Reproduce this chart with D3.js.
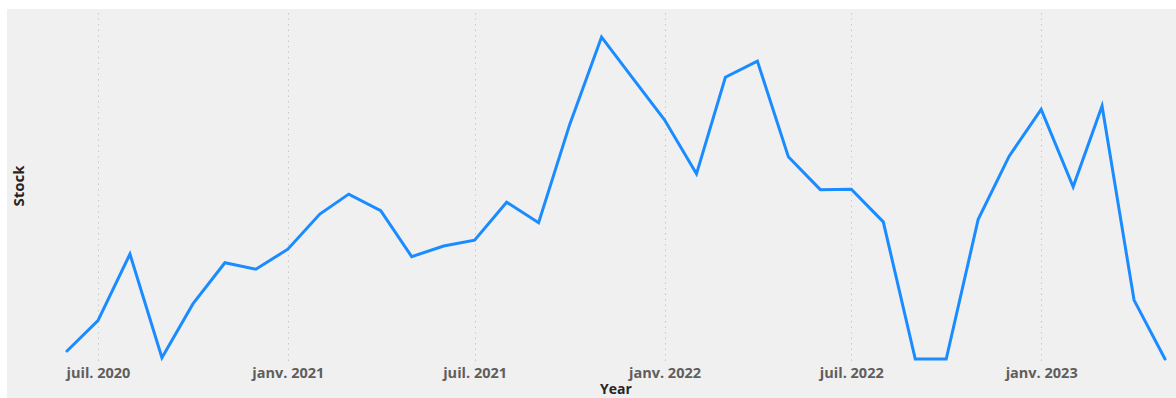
<!DOCTYPE html>
<html>
<head>
<meta charset="utf-8">
<script src="https://cdn.jsdelivr.net/npm/d3@7"></script>
<style>
  html, body { margin: 0; padding: 0; background: #ffffff; }
  svg { display: block; }
</style>
</head>
<body>
<svg id="chart" width="1176" height="398"></svg>
<script>
// Monthly stock level, June 2020 – May 2023
const months = [
  "2020-06", "2020-07", "2020-08", "2020-09", "2020-10", "2020-11", "2020-12",
  "2021-01", "2021-02", "2021-03", "2021-04", "2021-05", "2021-06",
  "2021-07", "2021-08", "2021-09", "2021-10", "2021-11", "2021-12",
  "2022-01", "2022-02", "2022-03", "2022-04", "2022-05", "2022-06",
  "2022-07", "2022-08", "2022-09", "2022-10", "2022-11", "2022-12",
  "2023-01", "2023-02", "2023-03", "2023-04", "2023-05"
];
const stock = [
  25, 119, 326, 4, 171, 299, 279,
  341, 450, 512, 461, 318, 351,
  369, 487, 423, 727, 1000, 873,
  743, 575, 875, 925, 628, 526,
  527, 426, 0, 0, 434, 630,
  775, 535, 786, 183, 0
];
const tickMonths = ["2020-07", "2021-01", "2021-07", "2022-01", "2022-07", "2023-01"];
const tickLabels = ["juil. 2020", "janv. 2021", "juil. 2021", "janv. 2022", "juil. 2022", "janv. 2023"];

const parse = d3.timeParse("%Y-%m");
const data = months.map((m, i) => ({ date: parse(m), value: stock[i] }));
const ticks = tickMonths.map(parse);

const svg = d3.select("#chart");

// panel background
svg.append("rect")
  .attr("x", 7).attr("y", 9)
  .attr("width", 1176 - 7).attr("height", 398 - 9)
  .attr("fill", "#f0f0f0");

const x = d3.scaleTime()
  .domain([parse("2020-06"), parse("2023-05")])
  .range([67, 1165]);

const y = d3.scaleLinear()
  .domain([0, 1000])
  .range([359, 37]);

// dotted vertical gridlines at tick months
svg.append("g")
  .selectAll("line")
  .data(ticks)
  .join("line")
  .attr("x1", d => Math.round(x(d)) + 0.5)
  .attr("x2", d => Math.round(x(d)) + 0.5)
  .attr("y1", 13)
  .attr("y2", 363)
  .attr("stroke", "#c8c8c8")
  .attr("stroke-width", 1)
  .attr("stroke-dasharray", "1.5,4");

// x axis labels
const xAxis = d3.axisBottom(x)
  .tickValues(ticks)
  .tickFormat((d, i) => tickLabels[i])
  .tickSize(0)
  .tickPadding(0);

const gx = svg.append("g")
  .attr("transform", "translate(0,365)")
  .call(xAxis);
gx.select(".domain").remove();
gx.selectAll("text")
  .attr("dy", "0.71em")
  .attr("y", 3)
  .attr("fill", "#605e5c")
  .style("font-family", "'Open Sans', 'DejaVu Sans', sans-serif")
  .style("font-size", "14.5px")
  .style("font-weight", "700");

// the stock line
const line = d3.line()
  .x(d => x(d.date))
  .y(d => y(d.value));

svg.append("path")
  .datum(data)
  .attr("d", line)
  .attr("fill", "none")
  .attr("stroke", "#1a8cff")
  .attr("stroke-width", 3)
  .attr("stroke-linejoin", "miter")
  .attr("stroke-linecap", "round");

// axis titles
svg.append("text")
  .attr("x", 616)
  .attr("y", 394)
  .attr("text-anchor", "middle")
  .attr("fill", "#252423")
  .style("font-family", "'Open Sans', 'DejaVu Sans', sans-serif")
  .style("font-size", "14px")
  .style("font-weight", "700")
  .text("Year");

svg.append("text")
  .attr("transform", "translate(24,186) rotate(-90)")
  .attr("text-anchor", "middle")
  .attr("fill", "#252423")
  .style("font-family", "'Open Sans', 'DejaVu Sans', sans-serif")
  .style("font-size", "15px")
  .style("font-weight", "700")
  .text("Stock");
</script>
</body>
</html>
